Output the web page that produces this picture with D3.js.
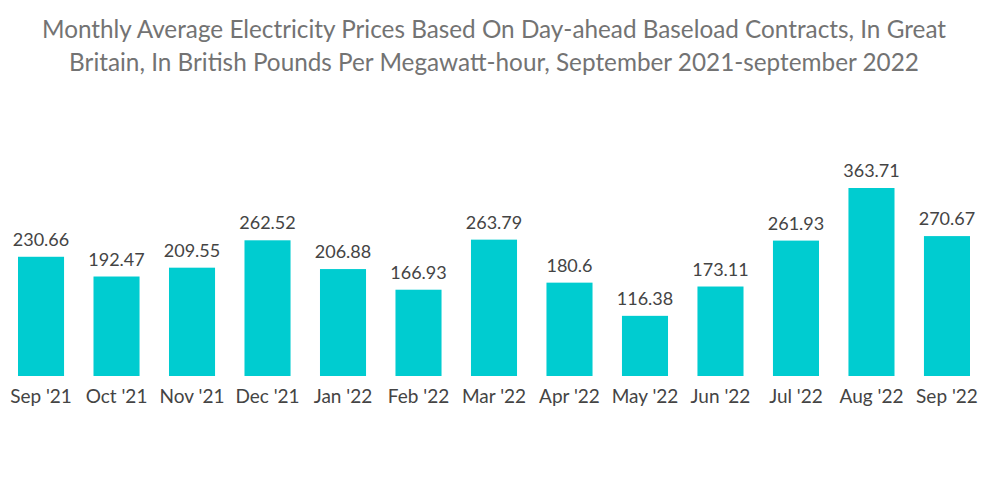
<html>
<head>
<meta charset="utf-8">
<script src="https://cdn.jsdelivr.net/npm/d3@7"></script>
<style>
  body { margin: 0; background: #fff; }
</style>
</head>
<body>
<div id="chart"></div>
<script>
var months = ["Sep '21", "Oct '21", "Nov '21", "Dec '21", "Jan '22", "Feb '22", "Mar '22",
              "Apr '22", "May '22", "Jun '22", "Jul '22", "Aug '22", "Sep '22"];
var prices = [230.66, 192.47, 209.55, 262.52, 206.88, 166.93, 263.79,
              180.6, 116.38, 173.11, 261.93, 363.71, 270.67];
var titleLines = [
  "Monthly Average Electricity Prices Based On Day-ahead Baseload Contracts, In Great",
  "Britain, In British Pounds Per Megawatt-hour, September 2021-september 2022"
];

var width = 1000, height = 504;
var font = "Lato, 'Open Sans', sans-serif";

var svg = d3.select("#chart").append("svg")
  .attr("width", width)
  .attr("height", height);

// title
svg.selectAll("text.title")
  .data(titleLines)
  .enter()
  .append("text")
  .attr("class", "title")
  .attr("x", width / 2 - 6)
  .attr("y", function (d, i) { return 38 + i * 33; })
  .attr("text-anchor", "middle")
  .style("font-family", font)
  .style("font-size", "24.3px")
  .style("fill", "#737373")
  .text(function (d) { return d; });

var x = d3.scaleBand()
  .domain(months)
  .range([18, 970])
  .paddingInner(0.39)
  .paddingOuter(0);

var y = d3.scaleLinear()
  .domain([0, 363.71])
  .range([376, 188]);

var data = months.map(function (m, i) { return { month: m, value: prices[i] }; });

svg.selectAll("rect.bar")
  .data(data)
  .enter()
  .append("rect")
  .attr("class", "bar")
  .attr("x", function (d) { return x(d.month); })
  .attr("y", function (d) { return y(d.value); })
  .attr("width", x.bandwidth())
  .attr("height", function (d) { return y(0) - y(d.value); })
  .style("fill", "#00CCD0");

// value labels
svg.selectAll("text.value")
  .data(data)
  .enter()
  .append("text")
  .attr("class", "value")
  .attr("x", function (d) { return x(d.month) + x.bandwidth() / 2; })
  .attr("y", function (d) { return y(d.value) - 11; })
  .attr("text-anchor", "middle")
  .style("font-family", font)
  .style("font-size", "18px")
  .style("fill", "#444")
  .text(function (d) { return d.value; });

// x axis labels
var xAxis = d3.axisBottom(x).tickSize(0).tickPadding(0);
var gx = svg.append("g")
  .attr("transform", "translate(0,389)")
  .call(xAxis);
gx.select(".domain").remove();
gx.selectAll("text")
  .style("font-family", font)
  .style("font-size", "19px")
  .style("fill", "#444");
</script>
</body>
</html>
